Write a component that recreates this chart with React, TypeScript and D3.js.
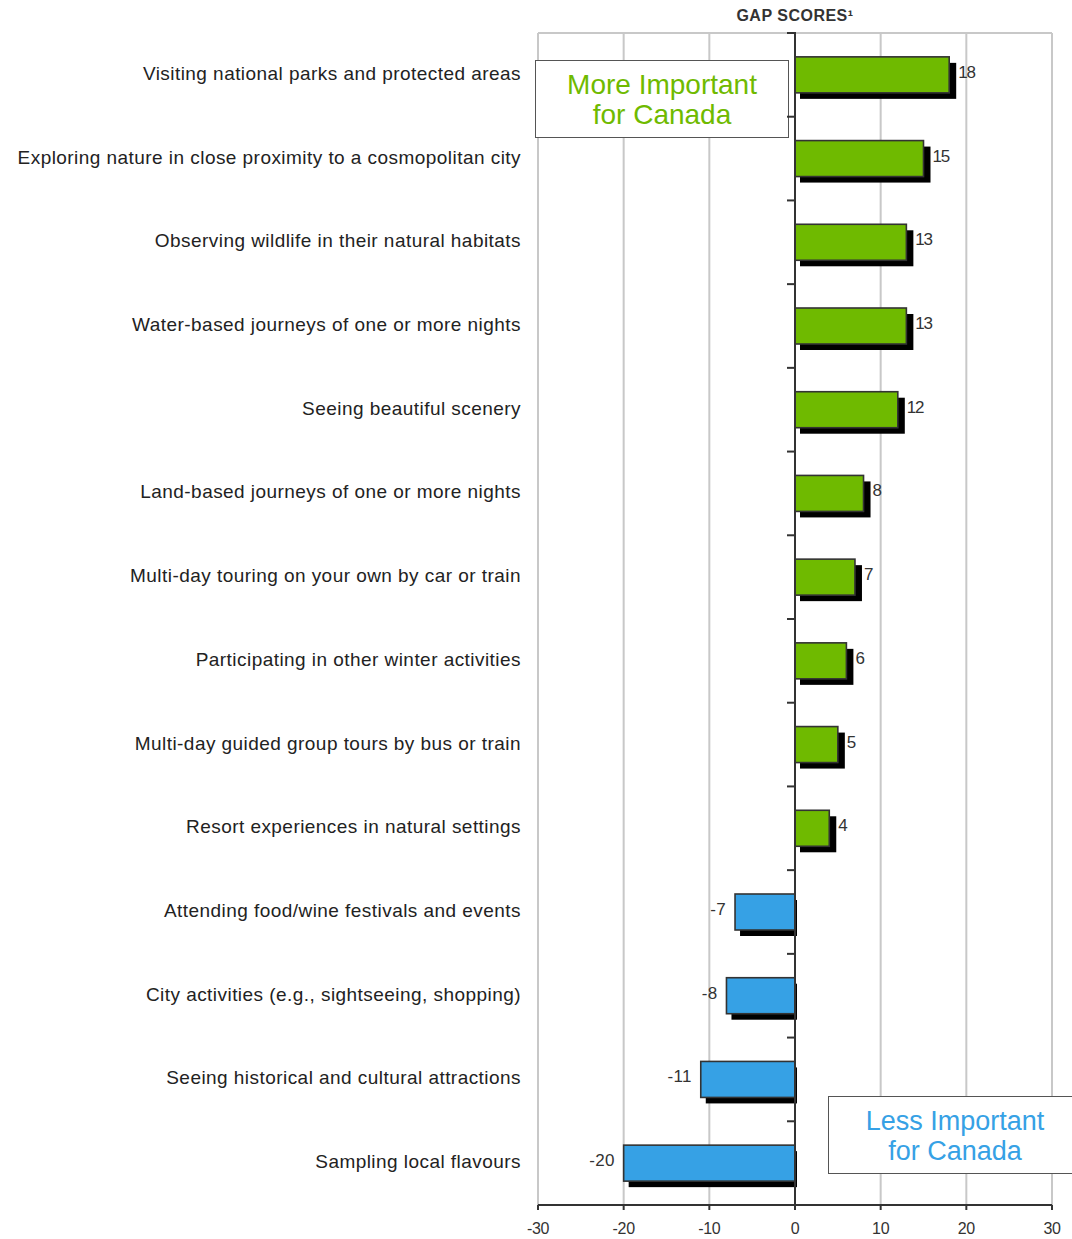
import React from "react";
import * as d3 from "d3";

const categories = [
  "Visiting national parks and protected areas",
  "Exploring nature in close proximity to a cosmopolitan city",
  "Observing wildlife in their natural habitats",
  "Water-based journeys of one or more nights",
  "Seeing beautiful scenery",
  "Land-based journeys of one or more nights",
  "Multi-day touring on your own by car or train",
  "Participating in other winter activities",
  "Multi-day guided group tours by bus or train",
  "Resort experiences in natural settings",
  "Attending food/wine festivals and events",
  "City activities (e.g., sightseeing, shopping)",
  "Seeing historical and cultural attractions",
  "Sampling local flavours",
];
const gapScores = [18, 15, 13, 13, 12, 8, 7, 6, 5, 4, -7, -8, -11, -20];
const xTicks = [-30, -20, -10, 0, 10, 20, 30];
const title = "GAP SCORES¹";
const moreLabel = ["More Important", "for Canada"];
const lessLabel = ["Less Important", "for Canada"];

const GREEN = "#6FBA00";
const BLUE = "#36A1E5";
const FONT = "'Liberation Sans', Arial, Helvetica, sans-serif";

export default function App() {
  const W = 1072, H = 1239;
  const left = 538, right = 1052, top = 33, bottom = 1205;
  const x = d3.scaleLinear().domain([-30, 30]).range([left, right]);
  const y = d3.scaleBand<string>().domain(categories).range([top, bottom]).paddingInner(0.57).paddingOuter(0.285);
  const step = y.step();
  const bw = y.bandwidth();
  const x0 = x(0);
  const boundaries = d3.range(categories.length + 1).map((i) => top + i * step);

  return (
    <svg width={W} height={H} style={{ position: "absolute", left: 0, top: 0, background: "#fff" }} fontFamily={FONT}>
      {/* grid */}
      <line x1={left} x2={right} y1={top} y2={top} stroke="#c8c8c8" strokeWidth={2} />
      {xTicks.filter((t) => t !== 0).map((t) => (
        <line key={t} x1={x(t)} x2={x(t)} y1={top} y2={bottom} stroke="#c8c8c8" strokeWidth={2} />
      ))}
      {/* title */}
      <text x={x0} y={21} textAnchor="middle" fontSize={16} fontWeight="bold" letterSpacing={0.5} fill="#333">{title}</text>
      {/* legend box top */}
      <rect x={535.5} y={60.5} width={253} height={77} fill="#fff" stroke="#555" strokeWidth={1} />
      {moreLabel.map((s, i) => (
        <text key={s} x={662} y={94 + i * 30} textAnchor="middle" fontSize={28} fill={GREEN}>{s}</text>
      ))}
      {/* bars */}
      {categories.map((c, i) => {
        const v = gapScores[i];
        const xs = Math.min(x(v), x0);
        const w = Math.abs(x(v) - x0);
        const yy = y(c)!;
        const sx = xs + 5;
        const sw = v >= 0 ? w + 2 : x0 + 2 - sx;
        return (
          <g key={c}>
            <rect x={sx} y={yy + 6} width={sw} height={bw} fill="#000" />
            <rect x={xs} y={yy} width={w} height={bw} fill={v >= 0 ? GREEN : BLUE} stroke="#333" strokeWidth={1.6} />
            <text
              x={v >= 0 ? x(v) + 9 : x(v) - 9}
              y={yy + bw / 2 + 3}
              textAnchor={v >= 0 ? "start" : "end"}
              fontSize={17}
              letterSpacing={v >= 0 ? -1.2 : 0.3}
              fill="#333"
            >
              {v}
            </text>
          </g>
        );
      })}
      {/* category labels */}
      {categories.map((c) => (
        <text key={c} x={521} y={y(c)! + bw / 2 + 5} textAnchor="end" fontSize={19} letterSpacing={0.45} fill="#222">{c}</text>
      ))}
      {/* zero axis */}
      <line x1={x0} x2={x0} y1={top - 1} y2={bottom} stroke="#333" strokeWidth={2} />
      {boundaries.map((b, i) => (
        <line key={i} x1={x0 - 8} x2={x0} y1={b} y2={b} stroke="#333" strokeWidth={2} />
      ))}
      {/* bottom axis */}
      <line x1={left} x2={right} y1={bottom} y2={bottom} stroke="#333" strokeWidth={2} />
      {xTicks.map((t) => (
        <g key={t}>
          <line x1={x(t)} x2={x(t)} y1={bottom} y2={bottom + 5} stroke="#333" strokeWidth={2} />
          <text x={x(t)} y={bottom + 29} textAnchor="middle" fontSize={16} letterSpacing={-0.3} fill="#333">{t}</text>
        </g>
      ))}
      {/* legend box bottom */}
      <rect x={828.5} y={1096.5} width={260} height={77} fill="#fff" stroke="#555" strokeWidth={1} />
      {lessLabel.map((s, i) => (
        <text key={s} x={955} y={1130 + i * 30} textAnchor="middle" fontSize={27} fill={BLUE}>{s}</text>
      ))}
    </svg>
  );
}
